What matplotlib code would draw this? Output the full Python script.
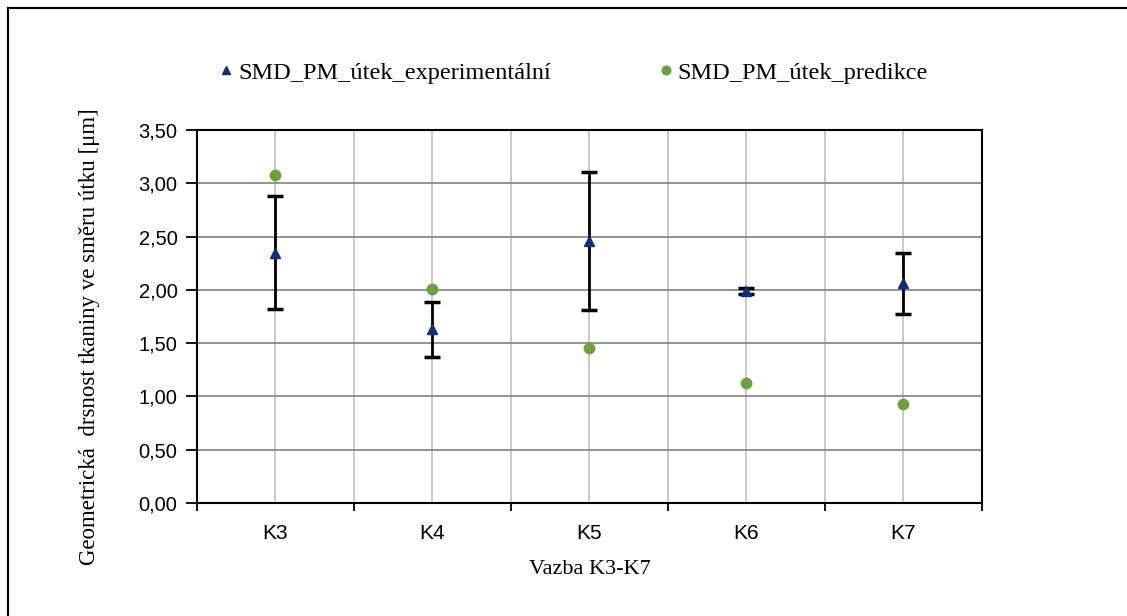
import numpy as np
import matplotlib.pyplot as plt
from matplotlib.patches import Rectangle
from matplotlib.ticker import FixedLocator, FuncFormatter

categories = ["K3", "K4", "K5", "K6", "K7"]
experimental = [2.35, 1.63, 2.46, 1.99, 2.06]
experimental_err = [0.53, 0.26, 0.645, 0.03, 0.29]
prediction = [3.08, 2.01, 1.45, 1.13, 0.93]

fig = plt.figure(figsize=(11.27, 6.16), dpi=100)
ax = fig.add_axes([0.1748, 0.1834, 0.6965, 0.6056])

x = np.arange(len(categories))

ax.errorbar(x, experimental, yerr=experimental_err, fmt='none', ecolor='black',
            elinewidth=2, capsize=6, capthick=2.5, zorder=3)
ax.plot(x, experimental, linestyle='none', marker='^', markersize=7,
        color='#0f2f7a', label="SMD_PM_útek_experimentální", zorder=4)
ax.plot(x, prediction, linestyle='none', marker='o', markersize=8.5,
        color='#6aa23e', markeredgewidth=0, label="SMD_PM_útek_predikce", zorder=4)

ax.set_xlim(-0.5, len(categories) - 0.5)
ax.set_ylim(0, 3.5)
ax.set_yticks(np.arange(0, 3.51, 0.5))
ax.yaxis.set_major_formatter(FuncFormatter(lambda v, p: f"{v:.2f}".replace('.', ',')))
ax.set_xticks(x)
ax.set_xticklabels(categories)
ax.xaxis.set_minor_locator(FixedLocator(np.arange(-0.5, len(categories), 1.0)))

ax.grid(axis='y', color='#8a8a8a', linewidth=1.3, zorder=0)
ax.grid(axis='x', which='both', color='#c4c4c4', linewidth=1.3, zorder=0)
ax.set_axisbelow(True)

for s in ax.spines.values():
    s.set_linewidth(1.5)
    s.set_color('black')

ax.tick_params(axis='x', which='major', length=0, pad=15, labelsize=15)
ax.tick_params(axis='x', which='minor', length=6, width=1.3, direction='out')
ax.tick_params(axis='y', length=8, width=1.3, direction='out', labelsize=14.5, pad=6)
for lab in ax.get_xticklabels() + ax.get_yticklabels():
    lab.set_fontfamily('Liberation Sans')

ax.set_xlabel("Vazba K3-K7", family='Liberation Serif', fontsize=16)
ax.xaxis.set_label_coords(0.5, -0.152)
ax.set_ylabel("Geometrická  drsnost tkaniny ve směru útku [μm]",
              family='Liberation Serif', fontsize=16.5)
ax.yaxis.set_label_coords(-0.124, 0.445)

fig.legend(loc='center', bbox_to_anchor=(0.509, 0.882), ncol=2, frameon=False,
           prop={'family': 'Liberation Serif', 'size': 17.5}, handlelength=0.6,
           handletextpad=0.2, columnspacing=4.4, markerscale=0.85)

fig.patches.append(Rectangle((8 / 1127, -0.1), 1.2, 1 - 8 / 616 + 0.1,
                             transform=fig.transFigure, fill=False,
                             edgecolor='black', linewidth=1.5))

fig.savefig("out.png", dpi=100)
